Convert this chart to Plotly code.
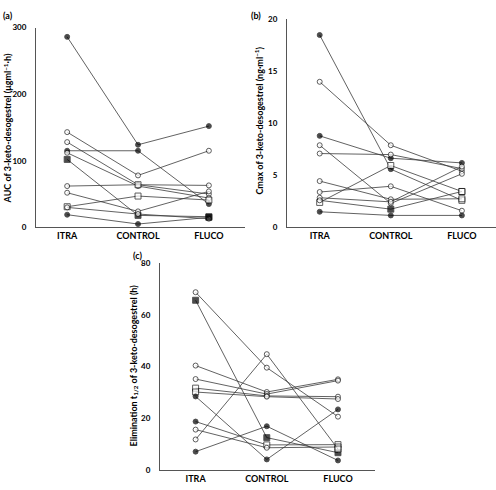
import plotly.graph_objects as go

categories = ["ITRA", "CONTROL", "FLUCO"]

# Panel (a): AUC, one list per subject (ITRA, CONTROL, FLUCO)
auc_values = [
    [286, 124, 152],
    [115, 115, 35],
    [143, 78, 115],
    [128, 64, 50],
    [112, 62, 44],
    [102, 18, 16],
    [62, 64, 63],
    [52, 24, 54],
    [31, 47, 41],
    [30, 20, 13],
    [19, 5, 15],
]
auc_kinds = [
    ["fc", "fc", "fc"], ["fc", "fc", "fc"], ["oc", "oc", "oc"], ["oc", "oc", "oc"],
    ["oc", "oc", "oc"], ["fs", "fs", "fs"], ["oc", "os", "oc"], ["oc", "oc", "oc"],
    ["os", "os", "os"], ["oc", "oc", "oc"], ["fc", "fc", "fs"],
]

# Panel (b): Cmax
cmax_values = [
    [18.5, 5.6, 2.6],
    [14.0, 7.9, 5.4],
    [8.8, 6.65, 6.2],
    [7.9, 2.3, 5.15],
    [7.1, 7.0, 5.65],
    [4.45, 2.7, 2.75],
    [3.4, 3.95, 1.6],
    [2.85, 2.45, 5.85],
    [2.4, 5.95, 3.45],
    [2.6, 1.75, 3.45],
    [1.5, 1.15, 1.15],
]
cmax_kinds = [
    ["fc", "fc", "os"], ["oc", "oc", "oc"], ["fc", "fc", "fc"], ["oc", "oc", "oc"],
    ["oc", "oc", "oc"], ["oc", "oc", "os"], ["oc", "oc", "oc"], ["oc", "oc", "oc"],
    ["os", "os", "os"], ["oc", "fs", "os"], ["fc", "fc", "fc"],
]

# Panel (c): elimination half-life
thalf_values = [
    [68.7, 39.6, 20.7],
    [65.6, 12.6, 6.8],
    [40.4, 30.2, 35.1],
    [35.2, 29.4, 34.6],
    [31.7, 28.7, 28.4],
    [30.2, 28.4, 27.5],
    [28.5, 4.2, 23.5],
    [18.8, 9.8, 9.9],
    [15.7, 8.7, 9.0],
    [11.9, 44.8, 8.2],
    [7.2, 17.0, 3.8],
]
thalf_kinds = [
    ["oc", "oc", "oc"], ["fs", "fs", "fs"], ["oc", "oc", "oc"], ["oc", "oc", "oc"],
    ["os", "oc", "oc"], ["os", "oc", "oc"], ["fc", "fc", "fc"], ["fc", "os", "os"],
    ["oc", "oc", "os"], ["oc", "oc", "os"], ["fc", "fc", "fc"],
]

W, H = 496, 490
FONT = "Lato, 'Open Sans', sans-serif"

def px_x(p):
    return p / W

def px_y(p):
    return (H - p) / H

sym = {"fc": "circle", "oc": "circle", "fs": "square", "os": "square"}
fill = {"fc": "black", "oc": "white", "fs": "black", "os": "white"}
size = {"fc": 5, "oc": 5, "fs": 6, "os": 6}

fig = go.Figure()

panels = [
    (auc_values, auc_kinds, "x", "y"),
    (cmax_values, cmax_kinds, "x2", "y2"),
    (thalf_values, thalf_kinds, "x3", "y3"),
]
for values, kinds, xa, ya in panels:
    for vals, kk in zip(values, kinds):
        fig.add_trace(go.Scatter(
            x=categories, y=vals, xaxis=xa, yaxis=ya, mode="lines+markers",
            line=dict(color="#3a3a3a", width=0.8),
            marker=dict(symbol=[sym[k] for k in kk], color=[fill[k] for k in kk],
                        size=[size[k] for k in kk], line=dict(color="black", width=0.9)),
            showlegend=False, cliponaxis=False, hoverinfo="skip",
        ))

base = dict(showgrid=False, zeroline=False, showline=True, linecolor="#555", linewidth=1, ticks="")
xcommon = dict(base, type="category", tickfont=dict(family=FONT, size=9, color="black", weight="bold"))
ycommon = dict(base, ticklabelstandoff=7, tickfont=dict(family=FONT, size=8, color="black", weight="bold"))

fig.update_layout(
    width=W, height=H, margin=dict(l=0, r=0, t=0, b=0),
    paper_bgcolor="white", plot_bgcolor="white",
    xaxis=dict(domain=[px_x(36), px_x(245)], anchor="y", range=[-0.44, 2.51], **xcommon),
    yaxis=dict(domain=[px_y(227), px_y(23)], anchor="x", range=[0, 300], tickvals=[0, 100, 200, 300], **ycommon),
    xaxis2=dict(domain=[px_x(287), px_x(496)], anchor="y2", range=[-0.46, 2.48], **xcommon),
    yaxis2=dict(domain=[px_y(227), px_y(14.7)], anchor="x2", range=[0, 20], tickvals=[0, 5, 10, 15, 20], **ycommon),
    xaxis3=dict(domain=[px_x(160), px_x(375)], anchor="y3", range=[-0.5, 2.52], **xcommon),
    yaxis3=dict(domain=[px_y(475), px_y(263.3)], anchor="x3", range=[0, 80], tickvals=[0, 20, 40, 60, 80], **ycommon),
)

title_font = dict(family=FONT, size=9, color="black", weight="bold")
label_font = dict(family=FONT, size=9, color="black", weight="bold")
annots = [
    dict(text="(a)", x=px_x(1), y=px_y(3), xanchor="left", yanchor="top", font=label_font),
    dict(text="(b)", x=px_x(249), y=px_y(3), xanchor="left", yanchor="top", font=label_font),
    dict(text="(c)", x=px_x(131), y=px_y(248), xanchor="left", yanchor="top", font=label_font),
    dict(text="AUC of 3-keto-desogestrel (μgml<sup>−1</sup>·h)", x=px_x(8), y=px_y(126),
         textangle=-90, xanchor="center", yanchor="middle", font=title_font),
    dict(text="Cmax of 3-keto-desogestrel (ng·ml<sup>−1</sup>)", x=px_x(259), y=px_y(118),
         textangle=-90, xanchor="center", yanchor="middle", font=title_font),
    dict(text="Elimination t<sub>1/2</sub> of 3-keto-desogestrel (h)", x=px_x(134), y=px_y(368),
         textangle=-90, xanchor="center", yanchor="middle", font=title_font),
]
for a in annots:
    fig.add_annotation(xref="paper", yref="paper", showarrow=False, **a)

fig.write_html("out.html", config={"displayModeBar": False},
               post_script="document.body.style.margin='0';document.body.style.overflow='hidden';")
